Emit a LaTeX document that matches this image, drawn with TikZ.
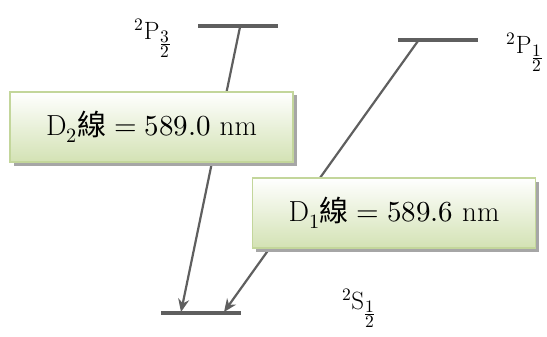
\documentclass[tikz,border=0pt]{standalone}
\usepackage{fontspec}
\usepackage{unicode-math}
\setmathfont{Latin Modern Math}
\newfontfamily\cjk{Noto Sans CJK TC}
\usetikzlibrary{arrows.meta,shadows}

\definecolor{levelgray}{HTML}{5F5F5F}
\definecolor{boxborder}{HTML}{C3D69B}
\definecolor{boxbottom}{HTML}{D3E2B4}

\tikzset{
    level/.style={levelgray, line width=3.8pt},
    transition/.style={levelgray, line width=2.2pt, -{Stealth[length=13pt,width=11pt]}},
    linebox/.style={draw=boxborder, line width=1.8pt, top color=white, bottom color=boxbottom,
        minimum width=283pt, minimum height=70pt, inner sep=0pt,
        drop shadow={shadow xshift=3.5pt, shadow yshift=-3.5pt, fill=black!35, opacity=1},
        font=\fontsize{29}{34}\selectfont},
    term/.style={font=\fontsize{25}{30}\selectfont}
}

\begin{document}
\begin{tikzpicture}[x=1pt,y=-1pt]
    \useasboundingbox (0,0) rectangle (547,337);

    % Energy levels (end points)
    \coordinate (p32l) at (198,26);
    \coordinate (p32r) at (278,26);
    \coordinate (p12l) at (398,40);
    \coordinate (p12r) at (478,40);
    \coordinate (s12l) at (161,313);
    \coordinate (s12r) at (241,313);
    \draw[level] (p32l) -- (p32r);
    \draw[level] (p12l) -- (p12r);
    \draw[level] (s12l) -- (s12r);

    % Term labels
    \node[term] (p32) at (153,38) {$^2\mathrm{P}_{\frac{\scriptstyle 3}{\scriptstyle 2}}$};
    \node[term] (p12) at (525,52) {$^2\mathrm{P}_{\frac{\scriptstyle 1}{\scriptstyle 2}}$};
    \node[term] (s12) at (359,308) {$^2\mathrm{S}_{\frac{\scriptstyle 1}{\scriptstyle 2}}$};

    % Transitions (start and end on the levels)
    \coordinate (d2top) at (240,27);
    \coordinate (d2bot) at (181,312);
    \coordinate (d1top) at (418,41);
    \coordinate (d1bot) at (224,312);
    \draw[transition] (d2top) -- (d2bot);
    \draw[transition] (d1top) -- (d1bot);

    % Wavelength boxes on top of the arrows
    \node[linebox] (d2) at (151.5,127) {$\mathrm{D}_2\mbox{\cjk 線} = 589.0\ \mathrm{nm}$};
    \node[linebox] (d1) at (394,213) {$\mathrm{D}_1\mbox{\cjk 線} = 589.6\ \mathrm{nm}$};
\end{tikzpicture}
\end{document}
